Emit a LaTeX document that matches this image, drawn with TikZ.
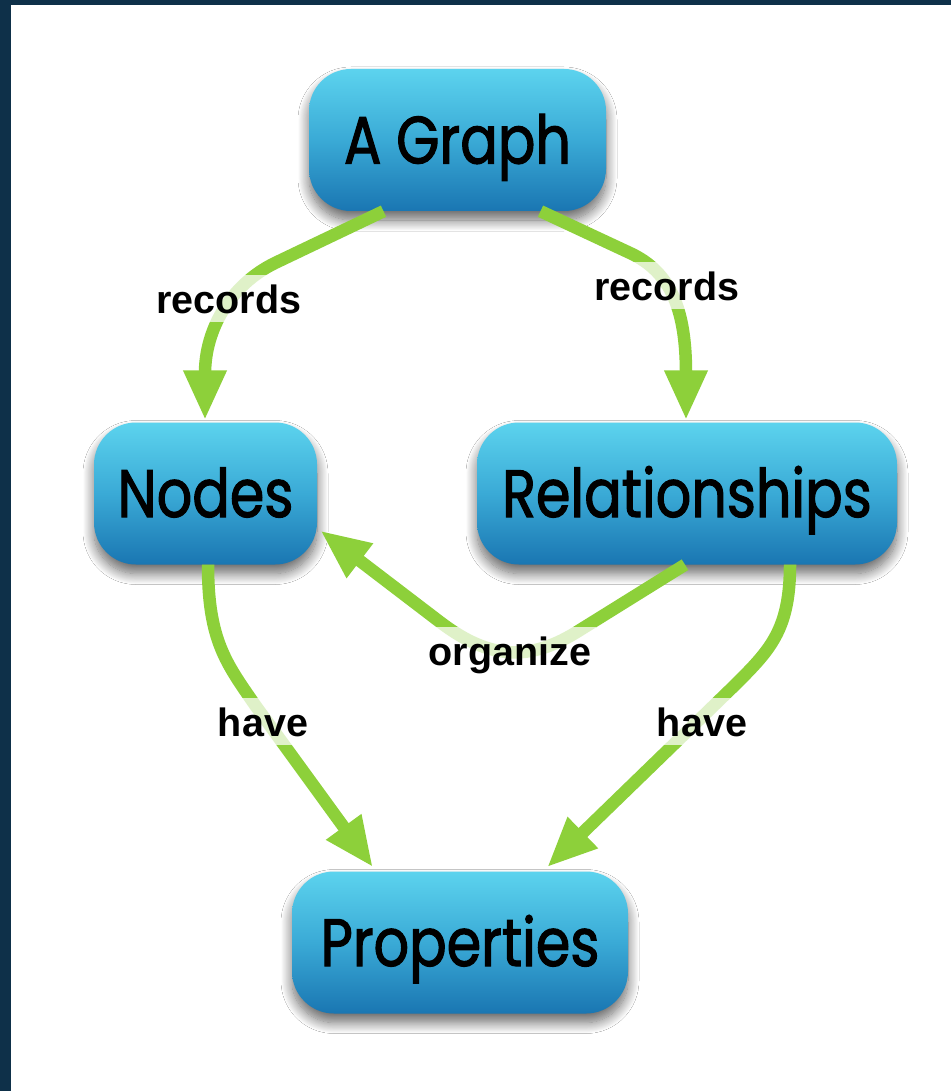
\documentclass[tikz,border=0pt]{standalone}
\usepackage{fontspec}
\setmainfont{Liberation Sans}
\newfontfamily\boxfont[FakeStretch=0.83,FakeBold=1.6]{Poppins}
\usetikzlibrary{arrows.meta,calc,shadows.blur}
\definecolor{navy}{RGB}{14,48,73}
\definecolor{edgegreen}{RGB}{141,208,58}
\definecolor{boxtop}{RGB}{92,211,238}
\definecolor{boxmid}{RGB}{58,170,214}
\definecolor{boxbot}{RGB}{26,118,178}
\begin{document}
\begin{tikzpicture}[x=1pt,y=-1pt,
  concept/.style={rounded corners=42pt, minimum height=142pt, inner sep=0pt,
     top color=boxtop, bottom color=boxbot, middle color=boxmid,
     font=\boxfont\fontsize{67}{67}\selectfont, text height=47pt, text depth=0pt,
     blur shadow={shadow xshift=0pt, shadow yshift=-9pt, shadow blur radius=11pt,
        shadow blur steps=16, shadow opacity=60}},
  link/.style={draw=edgegreen, line width=12.5pt, -{Triangle[length=50pt,width=40pt]}},
  linklabel/.style={fill=white, fill opacity=0.72, text opacity=1, inner xsep=5pt, inner ysep=9pt,
     font=\bfseries\fontsize{39.5}{40}\selectfont, anchor=base}
]
\useasboundingbox (0,0) rectangle (951,1091);
\fill[navy] (0,0) rectangle (951,1091);
\fill[white] (11,5) rectangle (951,1091);

\node[concept, minimum width=297pt] (graph) at (457.5,140) {A Graph};
\node[concept, minimum width=223pt] (nodes) at (205.5,493.5) {Nodes};
\node[concept, minimum width=420pt] (rel) at (687,493.5) {Relationships};
\node[concept, minimum width=336pt] (props) at (460,942.5) {Properties};

\draw[link] ($(graph.south)+(-74,0)$) -- (275,263) .. controls (230,285) and (205,330) .. ($(nodes.north)+(-0.5,-2)$);
\draw[link] ($(graph.south)+(83,0)$) -- (630,253) .. controls (671,272) and (686,310) .. ($(rel.north)+(-1,-2)$);
\draw[link] ($(rel.south)+(-2,0)$) -- (580,630) .. controls (530,662) and (490,660) .. (440,622) -- ($(nodes.east)+(3,37)$);
\draw[link] ($(nodes.south)+(2.5,0)$) .. controls (208,640) and (226,663) .. (255,705) -- ($(props.north)+(-87,-4)$);
\draw[link] ($(rel.south)+(103,0)$) .. controls (790,630) and (770,650) .. (735,685) -- ($(props.north)+(87,-4)$);

\node[linklabel] (l1) at (229,313) {records};
\node[linklabel] (l2) at (667,300) {records};
\node[linklabel] (l3) at (510,665) {organize};
\node[linklabel] (l4) at (263,736) {have};
\node[linklabel] (l5) at (702,736) {have};
\end{tikzpicture}
\end{document}
